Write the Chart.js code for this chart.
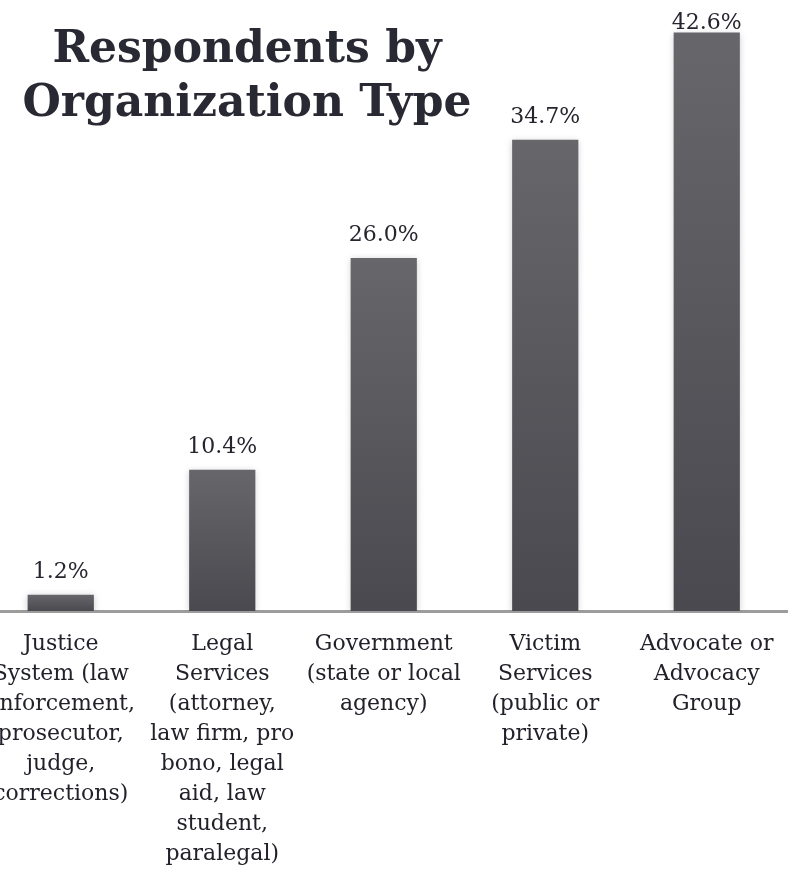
<!DOCTYPE html>
<html lang="en">
<head>
    <meta charset="UTF-8">
    <title>Respondents by Organization Type</title>
    <script src="https://cdn.jsdelivr.net/npm/chart.js"></script>
    <style>
        body {
            margin: 0;
            background: #fff;
            width: 792px;
            height: 872px;
            overflow: hidden;
            position: relative;
        }
        .chartBox {
            position: absolute;
            left: -20px;
            top: 0;
            width: 812px;
            height: 872px;
        }
        .title {
            position: absolute;
            left: 0;
            top: 20px;
            width: 494px;
            text-align: center;
            font-family: "DejaVu Serif", serif;
            font-weight: bold;
            font-size: 44px;
            line-height: 54px;
            color: #292933;
        }
    </style>
</head>
<body>
    <div class="chartBox">
        <canvas id="myChart" width="812" height="872"></canvas>
    </div>
    <div class="title">Respondents by<br>Organization Type</div>
    <script>
        // categories, split into lines the way they wrap in the original
        const categories = [
            ['Justice', 'System (law', 'enforcement,', 'prosecutor,', 'judge,', 'corrections)'],
            ['Legal', 'Services', '(attorney,', 'law firm, pro', 'bono, legal', 'aid, law', 'student,', 'paralegal)'],
            ['Government', '(state or local', 'agency)'],
            ['Victim', 'Services', '(public or', 'private)'],
            ['Advocate or', 'Advocacy', 'Group']
        ];
        const percents = [1.2, 10.4, 26.0, 34.7, 42.6];

        const serif = '"DejaVu Serif", serif';

        function barGradient(context) {
            const chart = context.chart;
            const area = chart.chartArea;
            if (!area) return '#58575c';
            const top = chart.scales.y.getPixelForValue(context.raw);
            const g = chart.ctx.createLinearGradient(0, top, 0, area.bottom);
            g.addColorStop(0, '#67666b');
            g.addColorStop(1, '#4a494f');
            return g;
        }

        // soft shadow under the bars, then the value labels on top
        const barExtras = {
            id: 'barExtras',
            beforeDatasetsDraw(chart) {
                const c = chart.ctx;
                c.save();
                c.shadowColor = 'rgba(0,0,0,0.22)';
                c.shadowBlur = 7;
                c.shadowOffsetY = 1;
            },
            afterDatasetsDraw(chart) {
                const c = chart.ctx;
                c.restore();
                c.save();
                c.font = '22px ' + serif;
                c.fillStyle = '#26252e';
                c.textAlign = 'center';
                c.textBaseline = 'alphabetic';
                chart.getDatasetMeta(0).data.forEach((bar, i) => {
                    const y = Math.max(bar.y - 17, 29);
                    c.fillText(percents[i].toFixed(1) + '%', bar.x, y);
                });
                c.restore();
            }
        };

        const ctx = document.getElementById('myChart');
        const myChart = new Chart(ctx, {
            type: 'bar',
            data: {
                labels: categories,
                datasets: [{
                    data: percents,
                    backgroundColor: barGradient,
                    borderWidth: 0,
                    barPercentage: 0.41,
                    categoryPercentage: 1.0
                }]
            },
            options: {
                responsive: false,
                animation: false,
                layout: { padding: { left: 0, right: 4.5, top: 0, bottom: 0 } },
                plugins: {
                    legend: { display: false },
                    tooltip: { enabled: false }
                },
                scales: {
                    x: {
                        grid: { display: false, drawTicks: false },
                        border: { display: true, color: '#9c9c9c', width: 3 },
                        ticks: {
                            autoSkip: false,
                            maxRotation: 0,
                            minRotation: 0,
                            padding: 18,
                            color: '#22212a',
                            font: { family: serif, size: 22, lineHeight: '30px' }
                        },
                        afterFit(scale) {
                            scale.height = 261;
                            // labels may spill past the edges, as in the original
                            scale.paddingLeft = 0;
                            scale.paddingRight = 0;
                        }
                    },
                    y: {
                        display: false,
                        min: 0,
                        max: 45
                    }
                }
            },
            plugins: [barExtras]
        });
    </script>
</body>
</html>
